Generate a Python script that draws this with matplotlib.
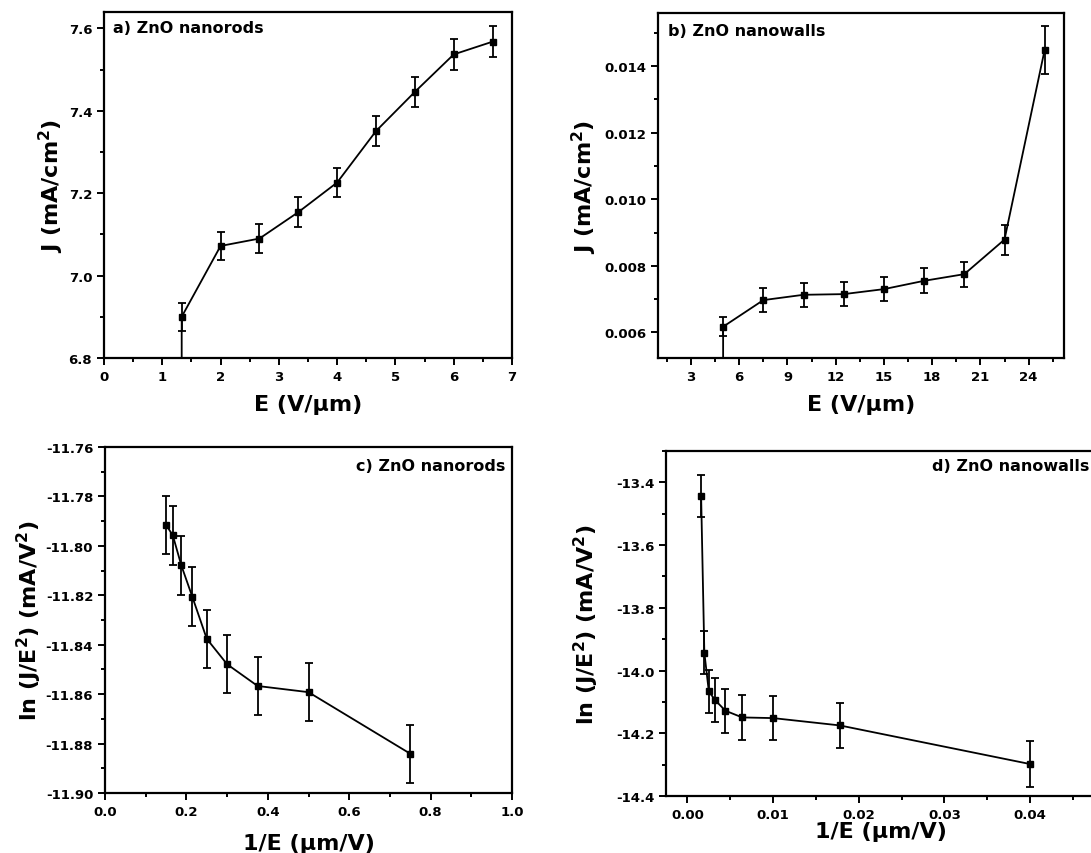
import matplotlib

matplotlib.use("Agg")
import matplotlib.pyplot as plt
from matplotlib.ticker import MultipleLocator, FormatStrFormatter

plt.rcParams["font.family"] = "DejaVu Sans"
plt.rcParams["font.weight"] = "bold"
plt.rcParams["mathtext.default"] = "bf"
plt.rcParams["axes.unicode_minus"] = False

# a) ZnO nanorods: J vs E (first entry is the clipped lead-in point)
E_rods = [1.333, 1.333, 2.0, 2.667, 3.333, 4.0, 4.667, 5.333, 6.0, 6.667]
J_rods = [6.60, 6.900, 7.072, 7.090, 7.154, 7.226, 7.351, 7.446, 7.537, 7.568]
J_rods_err = [0.034, 0.035, 0.035, 0.036, 0.036, 0.037, 0.037, 0.038, 0.038]

# b) ZnO nanowalls: J vs E
E_walls = [5.0, 5.0, 7.5, 10.0, 12.5, 15.0, 17.5, 20.0, 22.5, 25.0]
J_walls = [0.0045, 0.00617, 0.00697, 0.00713, 0.00715, 0.00730, 0.00755, 0.00775, 0.00879, 0.01450]
J_walls_err = [0.00029, 0.00035, 0.00036, 0.00036, 0.00037, 0.00038, 0.00038, 0.00045, 0.00072]

# c) ZnO nanorods: ln(J/E^2) vs 1/E
invE_rods = [0.150, 0.1667, 0.1875, 0.2143, 0.250, 0.300, 0.375, 0.500, 0.750]
lnJ_rods = [-11.7915, -11.7958, -11.8079, -11.8205, -11.8376, -11.8479, -11.8567, -11.8592, -11.8841]
lnJ_rods_err = [0.0118, 0.0118, 0.0118, 0.0118, 0.0118, 0.0118, 0.0118, 0.0118, 0.0118]

# d) ZnO nanowalls: ln(J/E^2) vs 1/E
invE_walls = [0.0016, 0.001975, 0.0025, 0.003265, 0.004444, 0.0064, 0.0100, 0.017778, 0.0400]
lnJ_walls = [-13.4435, -13.9425, -14.0667, -14.0953, -14.1282, -14.1495, -14.1516, -14.1749, -14.2981]
lnJ_walls_err = [0.067, 0.070, 0.070, 0.070, 0.070, 0.071, 0.071, 0.071, 0.072]

W, H = 1091, 854
fig = plt.figure(figsize=(W / 100, H / 100), dpi=100)


def px_axes(left, top, right, bottom):
    return fig.add_axes([left / W, 1 - bottom / H, (right - left) / W, (bottom - top) / H])


def style(ax):
    for sp in ax.spines.values():
        sp.set_linewidth(1.6)
    ax.tick_params(which="both", direction="out", top=False, right=False,
                   labelsize=9.5, width=1.4)
    ax.tick_params(which="major", length=5)
    ax.tick_params(which="minor", length=3)
    for lab in ax.get_xticklabels() + ax.get_yticklabels():
        lab.set_fontweight("bold")


def draw(ax, x, y, err, lead=0):
    ax.plot(x, y, color="black", linewidth=1.3, zorder=2)
    ax.errorbar(x[lead:], y[lead:], yerr=err, fmt="s", color="black", markersize=5,
                elinewidth=1.3, capsize=3, capthick=1.3, linestyle="none", zorder=3)


# panel a
ax = px_axes(104, 13, 512, 359)
draw(ax, E_rods, J_rods, J_rods_err, lead=1)
ax.set_xlim(0, 7)
ax.set_ylim(6.8, 7.64)
ax.xaxis.set_major_locator(MultipleLocator(1))
ax.xaxis.set_minor_locator(MultipleLocator(0.5))
ax.yaxis.set_major_locator(MultipleLocator(0.2))
ax.yaxis.set_minor_locator(MultipleLocator(0.1))
ax.yaxis.set_major_formatter(FormatStrFormatter("%.1f"))
ax.set_xlabel("E (V/μm)", fontsize=16, fontweight="bold", labelpad=8)
ax.set_ylabel("J (mA/cm$^2$)", fontsize=16, fontweight="bold", labelpad=2)
ax.text(0.022, 0.977, "a) ZnO nanorods", transform=ax.transAxes, ha="left", va="top",
        fontsize=11.5, fontweight="bold")
style(ax)

# panel b
ax = px_axes(658, 14, 1064, 359)
draw(ax, E_walls, J_walls, J_walls_err, lead=1)
ax.set_xlim(0.95, 26.2)
ax.set_ylim(0.00523, 0.0156)
ax.xaxis.set_major_locator(MultipleLocator(3))
ax.xaxis.set_minor_locator(MultipleLocator(1.5))
ax.yaxis.set_major_locator(MultipleLocator(0.002))
ax.yaxis.set_minor_locator(MultipleLocator(0.001))
ax.yaxis.set_major_formatter(FormatStrFormatter("%.3f"))
ax.set_xlabel("E (V/μm)", fontsize=16, fontweight="bold", labelpad=8)
ax.set_ylabel("J (mA/cm$^2$)", fontsize=16, fontweight="bold", labelpad=4)
ax.text(0.025, 0.971, "b) ZnO nanowalls", transform=ax.transAxes, ha="left", va="top",
        fontsize=11.5, fontweight="bold")
style(ax)

# panel c
ax = px_axes(105, 448, 512, 794)
draw(ax, invE_rods, lnJ_rods, lnJ_rods_err)
ax.set_xlim(0, 1.0)
ax.set_ylim(-11.90, -11.76)
ax.xaxis.set_major_locator(MultipleLocator(0.2))
ax.xaxis.set_minor_locator(MultipleLocator(0.1))
ax.yaxis.set_major_locator(MultipleLocator(0.02))
ax.yaxis.set_minor_locator(MultipleLocator(0.01))
ax.xaxis.set_major_formatter(FormatStrFormatter("%.1f"))
ax.yaxis.set_major_formatter(FormatStrFormatter("%.2f"))
ax.set_xlabel("1/E (μm/V)", fontsize=16, fontweight="bold", labelpad=11)
ax.set_ylabel("ln (J/E$^2$) (mA/V$^2$)", fontsize=16, fontweight="bold", labelpad=1)
ax.text(0.983, 0.968, "c) ZnO nanorods", transform=ax.transAxes, ha="right", va="top",
        fontsize=11.5, fontweight="bold")
style(ax)

# panel d (runs past the right edge, as in the source figure)
ax = px_axes(666, 452, 1096, 797)
draw(ax, invE_walls, lnJ_walls, lnJ_walls_err)
ax.set_xlim(-0.0025, 0.0477)
ax.set_ylim(-14.4, -13.30)
ax.xaxis.set_major_locator(MultipleLocator(0.01))
ax.xaxis.set_minor_locator(MultipleLocator(0.005))
ax.yaxis.set_major_locator(MultipleLocator(0.2))
ax.yaxis.set_minor_locator(MultipleLocator(0.1))
ax.xaxis.set_major_formatter(FormatStrFormatter("%.2f"))
ax.yaxis.set_major_formatter(FormatStrFormatter("%.1f"))
ax.set_xlabel("1/E (μm/V)", fontsize=16, fontweight="bold", labelpad=0)
ax.set_ylabel("ln (J/E$^2$) (mA/V$^2$)", fontsize=16, fontweight="bold", labelpad=11)
ax.text(0.984, 0.98, "d) ZnO nanowalls", transform=ax.transAxes, ha="right", va="top",
        fontsize=11.5, fontweight="bold")
style(ax)

fig.savefig("out.png", dpi=100)
